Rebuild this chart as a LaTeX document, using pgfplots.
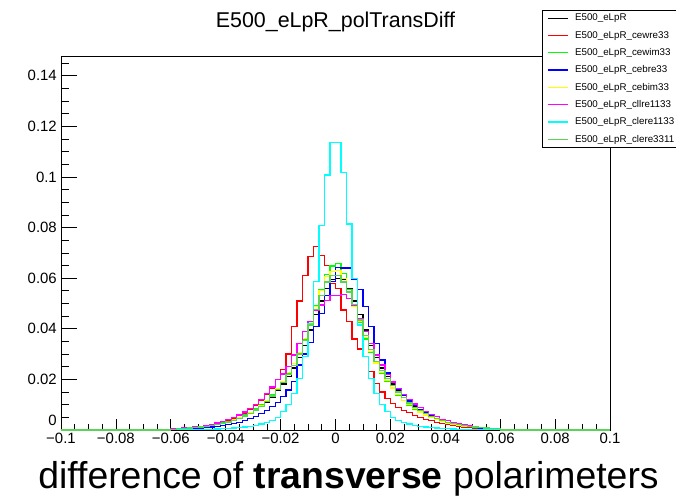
\documentclass[border=0pt]{standalone}
\usepackage{pgfplots}
\pgfplotsset{compat=1.18}
\usepackage{pgfplotstable}
\usepackage{fontspec}
\setmainfont{Liberation Sans}
\definecolor{rred}{RGB}{255,0,0}
\definecolor{rgreen}{RGB}{0,255,0}
\definecolor{rblue}{RGB}{0,0,255}
\definecolor{ryellow}{RGB}{255,255,0}
\definecolor{rmag}{RGB}{255,0,255}
\definecolor{rcyan}{RGB}{0,255,255}
\definecolor{rc8}{RGB}{89,212,84}
\pgfplotstableread{
x       blk     red     grn     blu     yel     mag     cyn     c8
-0.100  0       0       0       0       0       0       0       0
-0.060  0.0003  0.0004  0.0004  0.0002  0.0004  0.0004  0.0001  0.0003
-0.058  0.0005  0.0006  0.0005  0.0003  0.0005  0.0006  0.0001  0.0005
-0.056  0.0006  0.0008  0.0007  0.0004  0.0006  0.0008  0.0001  0.0006
-0.054  0.0008  0.0011  0.0009  0.0005  0.0008  0.0010  0.0001  0.0008
-0.052  0.0010  0.0013  0.0011  0.0007  0.0010  0.0012  0.0002  0.0010
-0.050  0.0012  0.0015  0.0013  0.0008  0.0013  0.0015  0.0002  0.0012
-0.048  0.0015  0.0019  0.0016  0.0010  0.0015  0.0019  0.0003  0.0015
-0.046  0.0018  0.0022  0.0019  0.0012  0.0019  0.0023  0.0003  0.0018
-0.044  0.0021  0.0027  0.0023  0.0015  0.0023  0.0028  0.0004  0.0022
-0.042  0.0026  0.0032  0.0028  0.0018  0.0027  0.0034  0.0005  0.0026
-0.040  0.0031  0.0039  0.0034  0.0022  0.0033  0.0041  0.0006  0.0032
-0.038  0.0037  0.0047  0.0041  0.0026  0.0040  0.0049  0.0008  0.0038
-0.036  0.0045  0.0056  0.0049  0.0031  0.0048  0.0059  0.0010  0.0046
-0.034  0.0054  0.0067  0.0059  0.0037  0.0058  0.0071  0.0012  0.0055
-0.032  0.0064  0.0081  0.0070  0.0044  0.0069  0.0085  0.0015  0.0066
-0.030  0.0077  0.0097  0.0083  0.0053  0.0082  0.0102  0.0019  0.0079
-0.028  0.0092  0.0116  0.0099  0.0064  0.0097  0.0122  0.0024  0.0094
-0.026  0.0110  0.0139  0.0117  0.0077  0.0115  0.0145  0.0030  0.0112
-0.024  0.0130  0.0166  0.0138  0.0092  0.0136  0.0170  0.0038  0.0134
-0.022  0.0155  0.0198  0.0163  0.0110  0.0163  0.0198  0.0050  0.0160
-0.020  0.0182  0.0240  0.0192  0.0132  0.0193  0.0221  0.0072  0.0188
-0.018  0.0212  0.0300  0.0225  0.0158  0.0226  0.0250  0.0102  0.0220
-0.016  0.0245  0.0410  0.0262  0.0191  0.0262  0.0296  0.0145  0.0255
-0.014  0.0285  0.0510  0.0305  0.0257  0.0305  0.0343  0.0205  0.0300
-0.012  0.0335  0.0610  0.0360  0.0300  0.0362  0.0389  0.0290  0.0355
-0.010  0.0395  0.0685  0.0425  0.0345  0.0425  0.0430  0.0420  0.0415
-0.008  0.0455  0.0725  0.0490  0.0410  0.0488  0.0474  0.0586  0.0475
-0.006  0.0510  0.0690  0.0555  0.0460  0.0550  0.0494  0.0808  0.0530
-0.004  0.0560  0.0650  0.0615  0.0530  0.0606  0.0513  0.1008  0.0585
-0.002  0.0594  0.0580  0.0648  0.0586  0.0625  0.0530  0.1137  0.0610
0.000   0.0600  0.0560  0.0659  0.0643  0.0630  0.0532  0.1137  0.0612
0.002   0.0594  0.0474  0.0620  0.0640  0.0600  0.0534  0.1019  0.0585
0.004   0.0560  0.0430  0.0555  0.0640  0.0545  0.0520  0.0814  0.0545
0.006   0.0510  0.0360  0.0490  0.0597  0.0490  0.0494  0.0600  0.0495
0.008   0.0455  0.0320  0.0425  0.0556  0.0428  0.0440  0.0415  0.0435
0.010   0.0395  0.0290  0.0360  0.0487  0.0365  0.0390  0.0290  0.0375
0.012   0.0335  0.0230  0.0305  0.0410  0.0310  0.0343  0.0205  0.0318
0.014   0.0285  0.0184  0.0262  0.0343  0.0265  0.0296  0.0145  0.0272
0.016   0.0245  0.0150  0.0225  0.0277  0.0228  0.0257  0.0102  0.0235
0.018   0.0212  0.0125  0.0192  0.0225  0.0195  0.0220  0.0072  0.0203
0.020   0.0182  0.0105  0.0163  0.0190  0.0166  0.0190  0.0050  0.0175
0.022   0.0155  0.0090  0.0138  0.0160  0.0140  0.0163  0.0038  0.0150
0.024   0.0130  0.0078  0.0117  0.0135  0.0118  0.0140  0.0030  0.0127
0.026   0.0110  0.0068  0.0099  0.0115  0.0100  0.0120  0.0024  0.0107
0.028   0.0092  0.0058  0.0083  0.0098  0.0084  0.0103  0.0019  0.0090
0.030   0.0077  0.0050  0.0070  0.0082  0.0071  0.0088  0.0015  0.0076
0.032   0.0064  0.0043  0.0059  0.0068  0.0059  0.0074  0.0012  0.0064
0.034   0.0054  0.0037  0.0049  0.0056  0.0049  0.0062  0.0010  0.0054
0.036   0.0045  0.0031  0.0041  0.0046  0.0041  0.0052  0.0008  0.0045
0.038   0.0037  0.0026  0.0034  0.0038  0.0034  0.0043  0.0006  0.0037
0.040   0.0031  0.0022  0.0028  0.0031  0.0028  0.0036  0.0005  0.0031
0.042   0.0026  0.0018  0.0023  0.0025  0.0023  0.0030  0.0004  0.0026
0.044   0.0021  0.0015  0.0019  0.0020  0.0019  0.0024  0.0003  0.0021
0.046   0.0018  0.0012  0.0016  0.0016  0.0016  0.0020  0.0003  0.0018
0.048   0.0015  0.0010  0.0013  0.0013  0.0013  0.0016  0.0002  0.0015
0.050   0.0012  0.0008  0.0011  0.0010  0.0011  0.0013  0.0002  0.0012
0.052   0.0010  0.0006  0.0009  0.0008  0.0009  0.0010  0.0001  0.0010
0.054   0.0008  0.0005  0.0007  0.0006  0.0007  0.0008  0.0001  0.0008
0.056   0.0006  0.0004  0.0005  0.0005  0.0005  0.0006  0.0001  0.0006
0.058   0.0005  0.0003  0.0004  0.0004  0.0004  0.0005  0.0001  0.0005
0.060   0       0       0       0       0       0       0       0
0.100   0       0       0       0       0       0       0       0
}\histdata
\begin{document}
\begin{tikzpicture}
\begin{axis}[
  at={(0,0)}, anchor=south west,
  scale only axis, width=549bp, height=374bp,
  xmin=-0.1, xmax=0.1, ymin=0, ymax=0.1478,
  xtick={-0.1,-0.08,-0.06,-0.04,-0.02,0,0.02,0.04,0.06,0.08,0.1},
  xticklabels={−0.1,−0.08,−0.06,−0.04,−0.02,0,0.02,0.04,0.06,0.08,0.1},
  ytick={0,0.02,0.04,0.06,0.08,0.1,0.12,0.14,0.16},
  yticklabels={\raisebox{20bp}{0},0.02,0.04,0.06,0.08,0.1,0.12,0.14,0.16},
  minor x tick num=3, minor y tick num=3,
  tick pos=left, tick align=inside,
  major tick length=12bp, minor tick length=6bp,
  major x tick style={/pgfplots/major tick length=11bp},
  major y tick style={/pgfplots/major tick length=16bp},
  minor x tick style={/pgfplots/minor tick length=6bp},
  minor y tick style={/pgfplots/minor tick length=8bp},
  tick style={black, line width=0.7bp},
  axis line style={black, line width=0.8bp},
  ticklabel style={font=\fontsize{15}{15}\selectfont},
  xticklabel style={inner sep=0pt, yshift=-2.5bp},
  yticklabel style={inner sep=0pt, xshift=-4bp},
  title={E500\_eLpR\_polTransDiff},
  title style={font=\fontsize{21.5}{22}\selectfont, at={(axis description cs:0.5,1)}, anchor=base, yshift=22.5bp, inner sep=0pt},
  xlabel={difference of \textbf{transverse} polarimeters},
  xlabel style={font=\fontsize{37.5}{40}\selectfont, at={(axis description cs:0.5237,0)}, anchor=base, yshift=-58bp, inner sep=0pt},
  legend style={
    at={(axis description cs:0.8761,1.1230)}, anchor=north west,
    font=\fontsize{9.8}{10}\selectfont,
    draw=black, line width=0.6bp, fill=white,
    inner xsep=5bp, inner ysep=3.5bp,
    row sep=8.2bp,
    nodes={inner sep=0.3bp},
    /tikz/every odd column/.append style={column sep=6bp},
  },
  legend cell align=left,
  legend image code/.code={\draw[#1, line width=1.5bp] (0bp,0bp) -- (20bp,0bp);},
  every axis plot/.append style={line width=1.2bp},
]
\addplot[const plot, black] table[x=x, y=blk] {\histdata};
\addlegendentry{E500\_eLpR}
\addplot[const plot, rred] table[x=x, y=red] {\histdata};
\addlegendentry{E500\_eLpR\_cewre33}
\addplot[const plot, rgreen] table[x=x, y=grn] {\histdata};
\addlegendentry{E500\_eLpR\_cewim33}
\addplot[const plot, rblue] table[x=x, y=blu] {\histdata};
\addlegendentry{E500\_eLpR\_cebre33}
\addplot[const plot, ryellow] table[x=x, y=yel] {\histdata};
\addlegendentry{E500\_eLpR\_cebim33}
\addplot[const plot, rmag] table[x=x, y=mag] {\histdata};
\addlegendentry{E500\_eLpR\_cllre1133}
\addplot[const plot, rcyan] table[x=x, y=cyn] {\histdata};
\addlegendentry{E500\_eLpR\_clere1133}
\addplot[const plot, rc8] table[x=x, y=c8] {\histdata};
\addlegendentry{E500\_eLpR\_clere3311}
\end{axis}
\pgfresetboundingbox
\path[use as bounding box] (-61bp,-67bp) rectangle (615bp,430bp);
\end{tikzpicture}
\end{document}
